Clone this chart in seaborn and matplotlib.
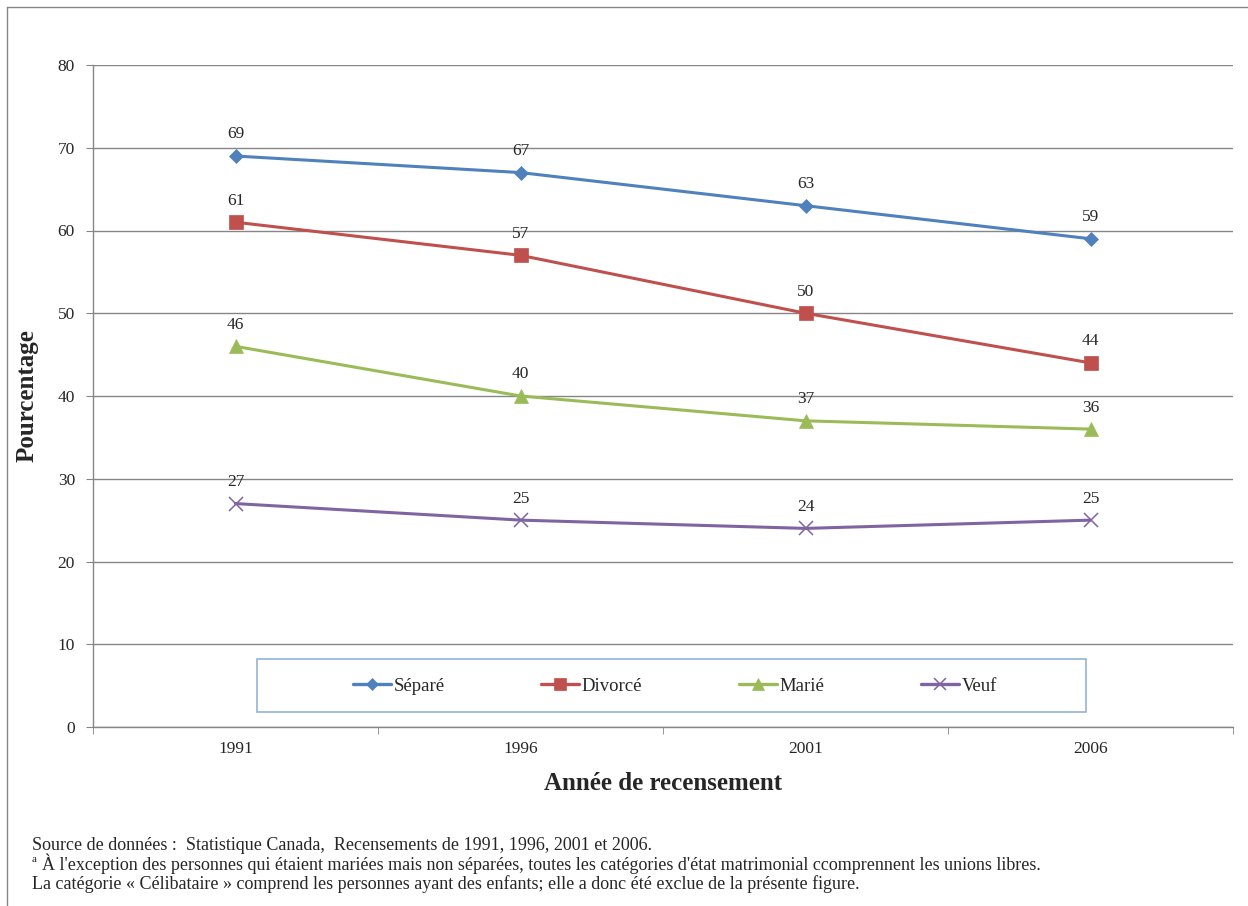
import matplotlib
matplotlib.use("Agg")
import matplotlib.pyplot as plt
from matplotlib.lines import Line2D
from matplotlib.patches import Rectangle
from matplotlib.ticker import FixedLocator, MultipleLocator
import seaborn as sns
import pandas as pd

years = ["1991", "1996", "2001", "2006"]
separe = [69, 67, 63, 59]
divorce = [61, 57, 50, 44]
marie = [46, 40, 37, 36]
veuf = [27, 25, 24, 25]
series_names = ["Séparé", "Divorcé", "Marié", "Veuf"]
colors = ["#4F81BD", "#C0504D", "#9BBB59", "#8064A2"]
markers = ["D", "s", "^", "x"]
marker_sizes = [7.5, 10, 9.5, 9.5]

sns.set_style("white")
plt.rcParams["font.family"] = ["Liberation Serif", "DejaVu Serif"]

W, H = 1248, 906
def fx(px):
    return px / W
def fy(py):
    return 1 - py / H

rows = []
for name, vals in zip(series_names, [separe, divorce, marie, veuf]):
    for y, v in zip(years, vals):
        rows.append({"Année": y, "Pourcentage": v, "Série": name})
df = pd.DataFrame(rows)

fig = plt.figure(figsize=(W / 100, H / 100), dpi=100)
ax = fig.add_axes([fx(93), fy(727), (1233 - 93) / W, (727 - 65) / H])

for name, col, mk, ms in zip(series_names, colors, markers, marker_sizes):
    sub = df[df["Série"] == name]
    sns.lineplot(data=sub, x="Année", y="Pourcentage", ax=ax, color=col,
                 marker=mk, markersize=ms, linewidth=2.2,
                 markeredgecolor=col, markeredgewidth=1.1 if mk == "x" else 0.5,
                 legend=False, sort=False)
    for i, v in enumerate(sub["Pourcentage"]):
        ax.annotate(str(v), (i, v), xytext=(0, 15.5), textcoords="offset points",
                    ha="center", va="center", fontsize=12.5)

ax.set_xlim(-0.5, 3.5)
ax.set_ylim(0, 80)
ax.yaxis.set_major_locator(MultipleLocator(10))
ax.grid(axis="y", color="#868686", linewidth=1)
ax.grid(axis="x", visible=False)
for s in ["top", "right"]:
    ax.spines[s].set_visible(False)
for s in ["left", "bottom"]:
    ax.spines[s].set_color("#868686")
    ax.spines[s].set_linewidth(1)
ax.set_xticks(range(len(years)))
ax.set_xticklabels(years)
ax.xaxis.set_minor_locator(FixedLocator([-0.5, 0.5, 1.5, 2.5, 3.5]))
ax.tick_params(axis="x", which="major", length=0, pad=10, labelsize=12.5)
ax.tick_params(axis="x", which="minor", length=5, color="#868686", direction="out", bottom=True)
ax.tick_params(axis="y", which="major", length=5, color="#868686", direction="out", left=True,
               pad=8, labelsize=12.5)
ax.set_xlabel("Année de recensement", fontsize=18, fontweight="bold", labelpad=11)
ax.set_ylabel("")
fig.text(fx(27), fy(396), "Pourcentage", rotation=90, fontsize=18, fontweight="bold",
         ha="center", va="center")

# legend box
fig.add_artist(Rectangle((fx(257), fy(712)), (1086 - 257) / W, (712 - 659) / H,
                         transform=fig.transFigure, facecolor="white",
                         edgecolor="#95B3D7", linewidth=1.2, zorder=5))
handles = [Line2D([0], [0], color=c, marker=m, markersize=ms * 0.85, linewidth=2.4,
                  markeredgecolor=c, markeredgewidth=1.1 if m == "x" else 0.5)
           for c, m, ms in zip(colors, markers, marker_sizes)]
leg = fig.legend(handles, series_names, ncol=4, loc="center",
                 bbox_to_anchor=(fx(675), fy(686)), frameon=False, fontsize=13.5,
                 handlelength=2.0, handletextpad=0.15, columnspacing=5.17, borderaxespad=0)
leg.set_zorder(6)

# outer border (top & left)
fig.add_artist(Line2D([fx(7), 1.0], [fy(7), fy(7)], color="#868686", lw=1,
                      transform=fig.transFigure))
fig.add_artist(Line2D([fx(7), fx(7)], [0, fy(7)], color="#868686", lw=1,
                      transform=fig.transFigure))

fs = 13.0
fig.text(fx(32), fy(846), "Source de données :  Statistique Canada,  Recensements de 1991, 1996, 2001 et 2006.",
         fontsize=fs, va="center", ha="left")
fig.text(fx(32), fy(859), "a", fontsize=8, va="center", ha="left")
fig.text(fx(42), fy(864),
         "À l'exception des personnes qui étaient mariées mais non séparées, toutes les catégories d'état matrimonial ccomprennent les unions libres.",
         fontsize=fs, va="center", ha="left")
fig.text(fx(32), fy(884),
         "La catégorie « Célibataire » comprend les personnes ayant des enfants; elle a donc été exclue de la présente figure.",
         fontsize=fs, va="center", ha="left")

fig.savefig("out.png", dpi=100, facecolor="white")
